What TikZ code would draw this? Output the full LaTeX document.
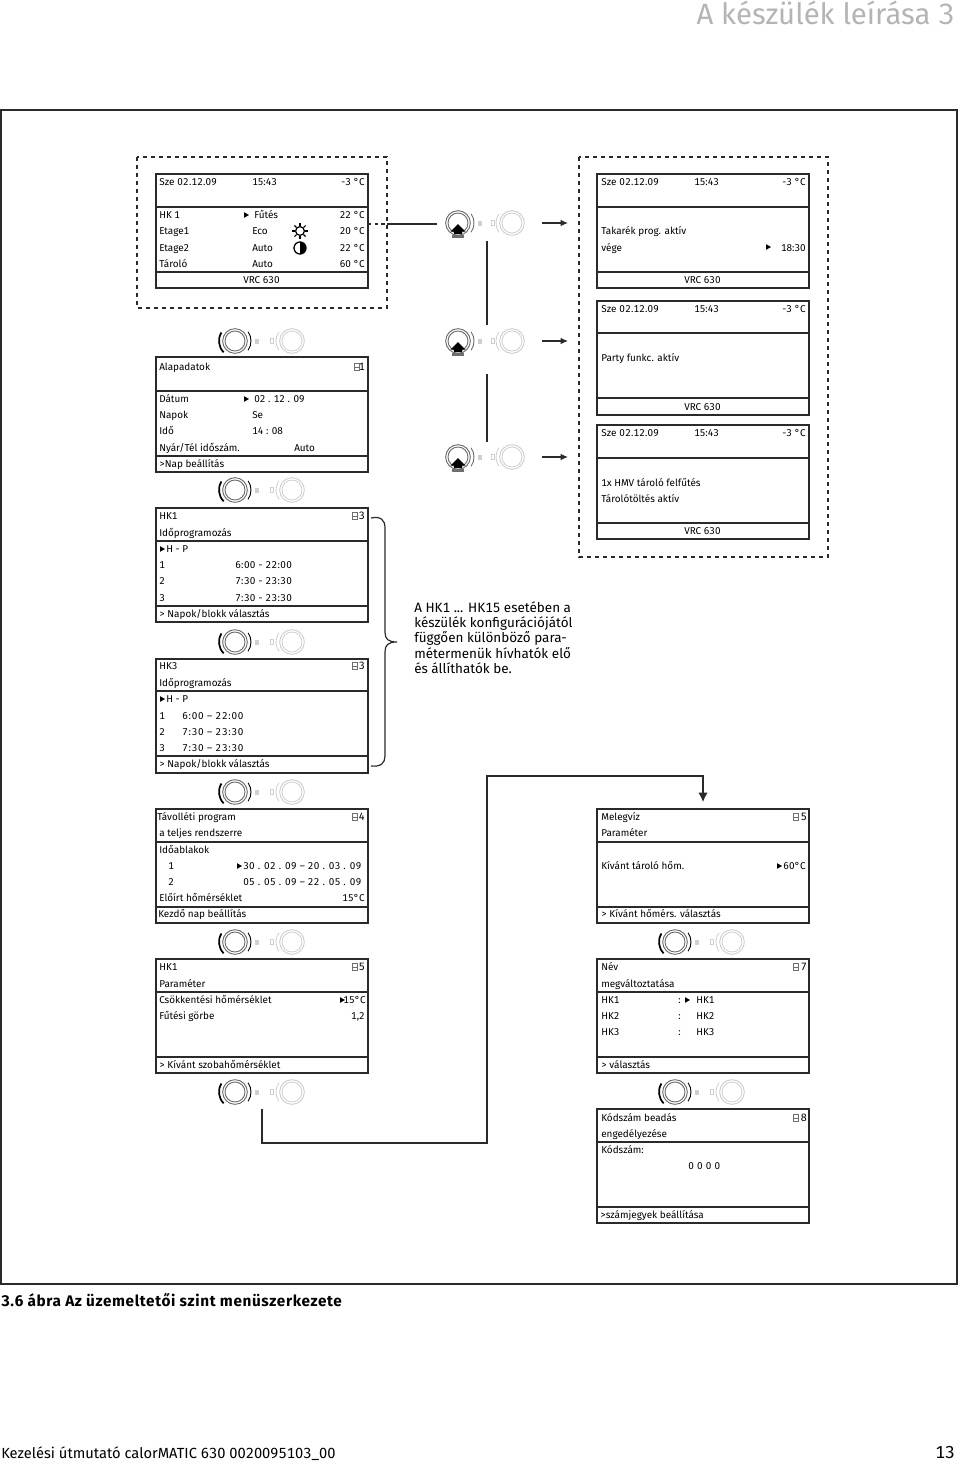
\documentclass[tikz,border=0pt]{standalone}
\usepackage{fontspec}
\setmainfont{Fira Sans}[Numbers={Tabular,Lining}]
\usetikzlibrary{calc,arrows.meta,positioning}
\definecolor{inkline}{HTML}{2A2A2A}
\definecolor{ringdark}{HTML}{6E6E6E}
\definecolor{ringpale}{HTML}{CFCFCF}
\definecolor{headgray}{HTML}{B4B4B4}

\tikzset{
  panelbox/.style={draw=inkline, line width=1.1pt, inner sep=0pt, outer sep=0pt, anchor=north west, minimum width=159pt},
  rule/.style={draw=inkline, line width=1.1pt},
  lbl/.style={font=\fontsize{7.45}{9}\selectfont, inner sep=0pt, anchor=base west, text=black},
  lblr/.style={lbl, anchor=base east},
  numr/.style={lbl, font=\fontsize{8}{9}\selectfont, anchor=base east},
  dashbox/.style={draw=inkline, line width=1pt, dash pattern=on 3pt off 3pt},
  link/.style={draw=inkline, line width=.9pt},
  ringa/.style={circle, draw=ringdark, line width=.7pt, minimum size=18.5pt, inner sep=0pt},
  ringb/.style={circle, draw=ringpale, line width=.7pt, minimum size=18.5pt, inner sep=0pt}
}

% menu panel: name, x, top, first rule, second rule, bottom
\newcommand{\panel}[6]{
  \node[panelbox, minimum height={(#6-#3)*0.75pt}] (#1) at (#2,#3) {};
  \draw[rule] (#2,#4) -- (#2+212,#4);
  \draw[rule] (#2,#5) -- (#2+212,#5);
}
% dial pair, left dial turned
\newcommand{\turnknob}[3]{
  \node[ringa] (#1) at (#2,#3) {};
  \draw[ringdark, line width=.7pt] (#2,#3) circle (10);
  \draw[black, line width=1.3pt] (#2,#3) ++(135:16) arc (135:212:16);
  \draw[black, line width=.7pt] (#2,#3) ++(35:16) arc (35:-35:16);
  \fill[ringpale] (#2+20,#3-2.5) rectangle (#2+24,#3+2.5);
  \node[ringb] (#1b) at (#2+57,#3) {};
  \draw[ringpale, line width=.6pt] (#2+57,#3) circle (10);
  \draw[ringpale, line width=.6pt] (#2+57,#3) ++(145:16) arc (145:215:16);
  \draw[ringpale, line width=.6pt] (#2+35,#3-2.5) rectangle (#2+38,#3+2.5);
}
% dial pair, left dial pressed
\newcommand{\pressknob}[3]{
  \node[ringa] (#1) at (#2,#3) {};
  \draw[ringdark, line width=.7pt] (#2,#3) circle (10);
  \fill[black] (#2,#3+1) -- (#2+7.5,#3+8.5) -- (#2+4,#3+8.5) -- (#2+4,#3+11) -- (#2-4,#3+11) -- (#2-4,#3+8.5) -- (#2-7.5,#3+8.5) -- cycle;
  \fill[ringdark] (#2-6,#3+12) rectangle (#2+6,#3+14.5);
  \draw[ringdark, line width=.7pt] (#2,#3) ++(35:16) arc (35:-35:16);
  \fill[ringpale] (#2+20,#3-2.5) rectangle (#2+24,#3+2.5);
  \node[ringb] (#1b) at (#2+54,#3) {};
  \draw[ringpale, line width=.6pt] (#2+54,#3) circle (10);
  \draw[ringpale, line width=.6pt] (#2+54,#3) ++(145:16) arc (145:215:16);
  \draw[ringpale, line width=.6pt] (#2+33,#3-2.5) rectangle (#2+36,#3+2.5);
}
\newcommand{\marker}[2]{\fill[black] (#1,#2-2.8) -- (#1+5,#2) -- (#1,#2+2.8) -- cycle;}
\newcommand{\menuicon}[2]{
  \draw[ringdark, line width=.5pt] (#1-2.5,#2-3.2) rectangle (#1+2.5,#2+3.2);
  \draw[ringdark, line width=.5pt] (#1-2.5,#2) -- (#1+2.5,#2);
}
\newcommand{\spc}[2]{{\addfontfeatures{LetterSpace=#1}#2}}

\begin{document}
\begin{tikzpicture}[x=0.75pt, y=-0.75pt]
\useasboundingbox (0,0) rectangle (960,1464);

\node[font=\fontsize{22}{26}\selectfont, text=headgray, inner sep=0pt, anchor=base east] (pageHead) at (955,24) {A készülék leírása 3};
\draw[draw=inkline, line width=.9pt] (1,110) rectangle (957,1284);

% dashed frames
\draw[dashbox] (137,157) rectangle (387,308);
\draw[dashbox] (579,157) rectangle (828,557);

% panels
\panel{pMain}{156}{174}{207}{272}{288}
\panel{pBase}{156}{357}{391}{456}{472}
\panel{pHKa}{156}{508}{541}{606}{622}
\panel{pHKc}{156}{659}{691}{756}{773}
\panel{pAway}{156}{809}{842}{907}{923}
\panel{pPara}{156}{959}{992}{1057}{1073}
\panel{pSave}{597}{174}{207}{272}{288}
\panel{pParty}{597}{301}{333}{398}{415}
\panel{pLoad}{597}{425}{458}{523}{539}
\panel{pWater}{597}{809}{842}{907}{923}
\panel{pName}{597}{959}{992}{1057}{1073}
\panel{pCode}{597}{1109}{1142}{1207}{1223}

% dials
\foreach \n/\x/\y in {kA/235/341, kB/235/490, kC/235/642, kD/235/792, kE/235/942, kF/235/1092, kG/675/942, kH/675/1092}{
  \turnknob{\n}{\x}{\y}
}
\foreach \n/\y in {kP/223, kQ/341, kR/457}{
  \pressknob{\n}{458}{\y}
}

% left column texts
\foreach \x/\y/\s [count=\k] in {159/182/\spc{2}{Sze 02.12.09}, 252/182/15:43, 159/215/HK 1, 254/215/Fűtés, 159/231/Etage1, 252/231/Eco, 159/248/Etage2, 252/248/Auto, 159/264/Tároló, 252/264/Auto, 243/280/VRC 630}{
  \node[lbl] (tMain\k) at (\x,\y+3.4) {\s};
}
\foreach \x/\y/\s [count=\k] in {159/367/Alapadatok, 159/399/Dátum, 254/399/02 . 12 . 09, 159/415/Napok, 252/415/Se, 159/431/Idő, 252/431/14 : 08, 159/448/{Nyár/Tél időszám.}, 294/448/Auto, 159/464/{>Nap beállítás}}{
  \node[lbl] (tBase\k) at (\x,\y+3.4) {\s};
}
\foreach \x/\y/\s [count=\k] in {159/516/HK1, 159/533/Időprogramozás, 166/549/H - P, 159/565/1, 235/565/\spc{4}{6:00 - 22:00}, 159/581/2, 235/581/\spc{4}{7:30 - 23:30}, 159/598/3, 235/598/\spc{4}{7:30 - 23:30}, 159/614/{> Napok/blokk választás}}{
  \node[lbl] (tHKa\k) at (\x,\y+3.4) {\s};
}
\foreach \x/\y/\s [count=\k] in {159/666/HK3, 159/683/Időprogramozás, 166/699/H - P, 159/716/1, 182/716/\spc{8}{6:00 – 22:00}, 159/732/2, 182/732/\spc{8}{7:30 – 23:30}, 159/748/3, 182/748/\spc{8}{7:30 – 23:30}, 159/764/{> Napok/blokk választás}}{
  \node[lbl] (tHKc\k) at (\x,\y+3.4) {\s};
}
\foreach \x/\y/\s [count=\k] in {157/817/Távolléti program, 159/833/a teljes rendszerre, 159/850/Időablakok, 168/866/1, 243/866/\spc{4}{30 . 02 . 09 – 20 . 03 . 09}, 168/882/2, 243/882/\spc{4}{05 . 05 . 09 – 22 . 05 . 09}, 159/898/Előírt hőmérséklet, 158/914/Kezdő nap beállítás}{
  \node[lbl] (tAway\k) at (\x,\y+3.4) {\s};
}
\foreach \x/\y/\s [count=\k] in {159/967/HK1, 159/984/Paraméter, 159/1000/Csökkentési hőmérséklet, 159/1016/Fűtési görbe, 159/1065/> Kívánt szobahőmérséklet}{
  \node[lbl] (tPara\k) at (\x,\y+3.4) {\s};
}

% right column texts
\foreach \x/\y/\s [count=\k] in {601/182/\spc{2}{Sze 02.12.09}, 694/182/15:43, 601/231/Takarék prog. aktív, 601/248/vége, 684/280/VRC 630, 601/309/\spc{2}{Sze 02.12.09}, 694/309/15:43, 601/358/Party funkc. aktív, 684/407/VRC 630, 601/433/\spc{2}{Sze 02.12.09}, 694/433/15:43, 601/483/1x HMV tároló felfűtés, 601/499/Tárolótöltés aktív, 684/531/VRC 630}{
  \node[lbl] (tRun\k) at (\x,\y+3.4) {\s};
}
\foreach \x/\y/\s [count=\k] in {601/817/Melegvíz, 601/833/Paraméter, 601/866/Kívánt tároló hőm., 601/914/> Kívánt hőmérs. választás}{
  \node[lbl] (tWater\k) at (\x,\y+3.4) {\s};
}
\foreach \x/\y/\s [count=\k] in {601/967/Név, 601/984/megváltoztatása, 601/1000/HK1, 678/1000/:, 696/1000/HK1, 601/1016/HK2, 678/1016/:, 696/1016/HK2, 601/1032/HK3, 678/1032/:, 696/1032/HK3, 601/1065/> választás}{
  \node[lbl] (tName\k) at (\x,\y+3.4) {\s};
}
\foreach \x/\y/\s [count=\k] in {601/1118/Kódszám beadás, 601/1134/engedélyezése, 601/1150/Kódszám:, 688/1166/\spc{6}{0 0 0 0}, 600/1215/>számjegyek beállítása}{
  \node[lbl] (tCode\k) at (\x,\y+3.4) {\s};
}

% right aligned values
\foreach \x/\y/\s [count=\k] in {365/182/-3 °C, 365/215/22 °C, 365/231/20 °C, 365/248/22 °C, 365/264/60 °C, 365/898/15°C, 366/1000/15°C, 365/1016/{1,2}, 806/182/-3 °C, 806/248/18:30, 806/309/-3 °C, 806/433/-3 °C, 806/866/60°C}{
  \node[lblr] (tVal\k) at (\x,\y+3.4) {\s};
}
\foreach \x/\y/\s [count=\k] in {365/367/1, 365/516/3, 365/666/3, 365/817/4, 365/967/5, 807/817/5, 807/967/7, 807/1118/8}{
  \node[numr] (tNum\k) at (\x,\y+3.4) {\s};
}

% cursors and menu icons
\foreach \x/\y in {244/215, 244/399, 160/549, 160/699, 237/866, 340/1000, 766/247, 777/866, 685/1000}{
  \marker{\x}{\y}
}
\foreach \x/\y in {356.5/367, 354.5/516, 354.5/666, 354.5/817, 354.5/967, 795.5/817, 795.5/967, 795.5/1118}{
  \menuicon{\x}{\y}
}

% sun and half moon
\draw[black, line width=.9pt] (300,231) circle (4.4);
\foreach \a in {0,45,...,315}{
  \draw[black, line width=.8pt] (300,231) ++(\a:5) -- ++(\a:2.8);
}
\draw[black, line width=1pt] (300,248) circle (6);
\fill[black] (300,254) arc (90:-90:6) -- cycle;

% connectors
\coordinate (mainOut) at (368,224);
\coordinate (frameOut) at (387,224);
\coordinate (pressIn) at (437,224);
\draw[link, dash pattern=on 2.5pt off 2.5pt] (mainOut) -- (frameOut);
\draw[link] (frameOut) -- (pressIn);
\foreach \n/\y/\z in {a/241/325, b/374/442}{
  \coordinate (up\n) at (487,\y);
  \coordinate (dn\n) at (487,\z);
  \draw[link] (up\n) -- (dn\n);
}
\foreach \n/\y in {a/223, b/341, c/457}{
  \coordinate (out\n) at (542,\y);
  \coordinate (in\n) at (568,\y);
  \draw[link, -{Latex[length=5.5pt,width=5pt]}] (out\n) -- (in\n);
}
\coordinate (paraOut) at (262,1109);
\coordinate (waterIn) at (703,802);
\draw[link, -{Latex[length=7pt,width=7pt]}] (paraOut) -- (262,1143) -- (487,1143) -- (487,776) -- (703,776) -- (waterIn);

% brace
\draw[link] (371,518) .. controls (381,516) and (385,520) .. (385,528) -- (385,632) .. controls (385,639) and (388,642) .. (397,642) .. controls (388,642) and (385,645) .. (385,652) -- (385,756) .. controls (385,763) and (381,767) .. (371,766);

\node[font=\fontsize{10.1}{11.6}\selectfont, align=left, inner sep=0pt, anchor=north west] (hkNote) at (414,601) {A HK1 ... HK15 esetében a\\készülék konfigurációjától\\függően különböző para-\\métermenük hívhatók elő\\és állíthatók be.};

\node[font=\fontsize{11.5}{13}\selectfont\bfseries\addfontfeatures{LetterSpace=4}, inner sep=0pt, anchor=base west] (figCaption) at (1,1306) {3.6 ábra Az üzemeltetői szint menüszerkezete};
\node[font=\fontsize{11}{13}\selectfont, inner sep=0pt, anchor=base west] (pageFoot) at (1,1458) {Kezelési útmutató calorMATIC 630 0020095103\_00};
\node[font=\fontsize{13}{15}\selectfont, inner sep=0pt, anchor=base east] (pageNum) at (955,1458) {13};
\end{tikzpicture}
\end{document}
